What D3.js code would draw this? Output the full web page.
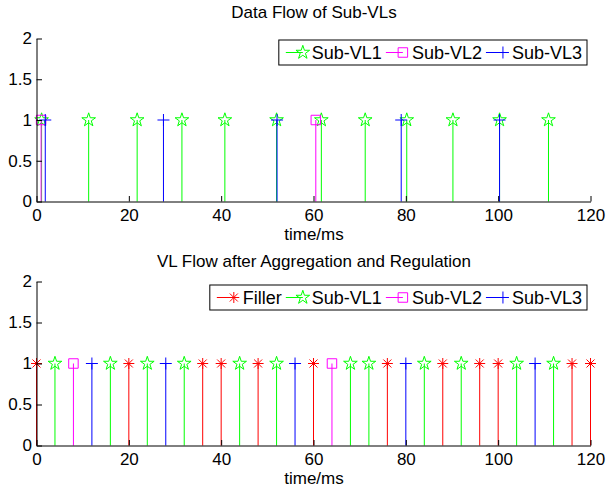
<!DOCTYPE html>
<html>
<head>
<meta charset="utf-8">
<script src="https://cdn.jsdelivr.net/npm/d3@7"></script>
<style>
  body { margin: 0; background: #fff; }
  text { font-family: "Liberation Sans", Arial, sans-serif; fill: #000; }
</style>
</head>
<body>
<script>
// top panel: arrival times of each sub-VL (ms), every stem has value 1
const vl1Times = [1.1, 11.3, 21.8, 31.5, 40.8, 52, 61.7, 71.2, 80.2, 90.2, 100.3, 110.9];
const vl2Times = [1.0, 60.5];
const vl3Times = [1.9, 27.5, 52.1, 79.0, 100.3];

// bottom panel: slots after aggregation and regulation
const fillerTimes = [0, 20, 36, 40, 48, 60, 76, 88, 96, 100, 116, 120];
const aggVl1Times = [4, 16, 24, 32, 44, 52, 68, 72, 84, 92, 104, 112];
const aggVl2Times = [8, 64];
const aggVl3Times = [12, 28, 56, 80, 108];

const stemValue = 1;
const xTicks = [0, 20, 40, 60, 80, 100, 120];
const yTicks = [0, 0.5, 1, 1.5, 2];
const xLabel = "time/ms";
const titles = ["Data Flow of Sub-VLs", "VL Flow after Aggregation and Regulation"];

const width = 607, height = 487;

const svg = d3.select("body").append("svg")
  .attr("width", width)
  .attr("height", height);

const x = d3.scaleLinear().domain([0, 120]).range([36.5, 590.5]);

// draws one marker symbol at (cx, cy)
function marker(sel, type, cx, cy, color) {
  let d;
  if (type == "star") d = d3.symbol(d3.symbolStar, 58)();
  else if (type == "square") d = d3.symbol(d3.symbolSquare, 90)();
  else if (type == "plus") d = "M-6,0H6M0,-6V6";
  else d = "M-5.5,0H5.5M0,-5.5V5.5M-4,-4L4,4M-4,4L4,-4";
  sel.append("path")
    .attr("d", d)
    .attr("transform", "translate(" + cx + "," + cy + ")")
    .attr("fill", "none")
    .attr("stroke", color)
    .attr("stroke-width", 1);
}

function legend(series, right, cy) {
  const g = svg.append("g");
  const box = g.append("rect");
  const items = g.append("g");
  let pos = 0;
  series.forEach(s => {
    const e = items.append("g").attr("transform", "translate(" + pos + ",0)");
    e.append("line")
      .attr("x1", 0).attr("x2", 17)
      .attr("y1", 0).attr("y2", 0)
      .attr("stroke", s.color);
    marker(e, s.type, 17, 0, s.color);
    const t = e.append("text")
      .attr("x", 26)
      .attr("dy", "0.35em")
      .style("font-size", "18px")
      .text(s.name);
    pos += 26 + t.node().getComputedTextLength() + 4;
  });
  const w = pos - 4 + 12;
  const left = right - w;
  items.attr("transform", "translate(" + (left + 7) + "," + cy + ")");
  box.attr("x", left).attr("y", cy - 12.5)
    .attr("width", w).attr("height", 25)
    .attr("fill", "#fff").attr("stroke", "#000");
}

function panel(series, yRange, title, titleY, legY) {
  const y = d3.scaleLinear().domain([0, 2]).range(yRange);
  const g = svg.append("g");

  g.append("text")
    .attr("x", 314).attr("y", titleY)
    .attr("text-anchor", "middle")
    .style("font-size", "17px")
    .text(title);

  series.forEach(s => {
    const sg = g.append("g");
    s.times.forEach(t => {
      sg.append("line")
        .attr("x1", x(t)).attr("x2", x(t))
        .attr("y1", y(0)).attr("y2", y(stemValue))
        .attr("stroke", s.color);
    });
    s.times.forEach(t => marker(sg, s.type, x(t), y(stemValue), s.color));
  });

  const xa = g.append("g")
    .attr("transform", "translate(0," + yRange[0] + ")")
    .call(d3.axisBottom(x).tickValues(xTicks).tickSizeInner(-5.5).tickSizeOuter(0).tickPadding(7));
  const ya = g.append("g")
    .attr("transform", "translate(" + x(0) + ",0)")
    .call(d3.axisLeft(y).tickValues(yTicks).tickSizeInner(-5.5).tickSizeOuter(0).tickPadding(4.5)
      .tickFormat(d3.format("")));
  [xa, ya].forEach(a => {
    a.selectAll("text").style("font-size", "17px").attr("fill", "#000");
    a.selectAll("line, path").attr("stroke", "#000");
  });

  g.append("text")
    .attr("x", 314).attr("y", yRange[0] + 38)
    .attr("text-anchor", "middle")
    .style("font-size", "17px")
    .text(xLabel);

  legend(series, 587, legY);
}

const topSeries = [
  {name: "Sub-VL1", times: vl1Times, color: "#00ff00", type: "star"},
  {name: "Sub-VL2", times: vl2Times, color: "#ff00ff", type: "square"},
  {name: "Sub-VL3", times: vl3Times, color: "#0000ff", type: "plus"}
];
const bottomSeries = [
  {name: "Filler", times: fillerTimes, color: "#ff0000", type: "asterisk"},
  {name: "Sub-VL1", times: aggVl1Times, color: "#00ff00", type: "star"},
  {name: "Sub-VL2", times: aggVl2Times, color: "#ff00ff", type: "square"},
  {name: "Sub-VL3", times: aggVl3Times, color: "#0000ff", type: "plus"}
];

panel(topSeries, [201.5, 38.5], titles[0], 18, 52.5);
panel(bottomSeries, [445.5, 281.5], titles[1], 267, 297.5);
</script>
</body>
</html>
